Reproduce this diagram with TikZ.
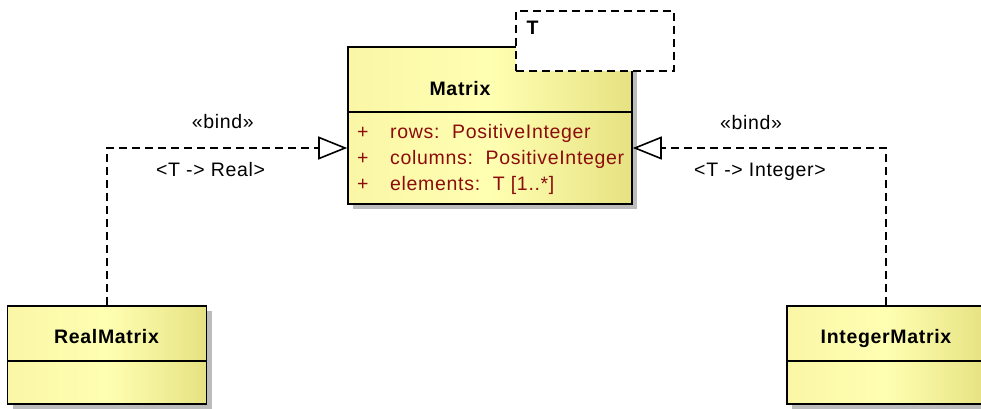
\documentclass[tikz,border=0pt]{standalone}
\usepackage{fontspec}
\setmainfont{Liberation Sans}[LetterSpace=3.5]
\usetikzlibrary{arrows.meta,shadows}
\definecolor{attr}{RGB}{140,12,12}
\definecolor{yl}{RGB}{250,246,166}
\definecolor{ym}{RGB}{255,255,178}
\definecolor{yr}{RGB}{230,226,130}
\definecolor{shd}{RGB}{188,188,188}
\begin{document}
\begin{tikzpicture}[x=1pt,y=-1pt,
  classbox/.style={draw=black, line width=1.6pt, left color=yl, right color=yr, middle color=ym,
    inner sep=0pt, drop shadow={shadow xshift=5pt, shadow yshift=-5pt, fill=shd, opacity=1}},
  divider/.style={line width=1.6pt},
  tplbox/.style={draw=black, fill=white, line width=1.6pt, dash pattern=on 8pt off 5pt, inner sep=0pt},
  title/.style={font=\bfseries\fontsize{19.5}{22}\selectfont, inner sep=0pt, anchor=base},
  attrtxt/.style={font=\fontsize{19.5}{22}\selectfont, text=attr, inner sep=0pt, anchor=base west},
  lbl/.style={font=\fontsize{19.5}{22}\selectfont, inner sep=0pt, anchor=base},
  bindline/.style={line width=1.6pt, dash pattern=on 8pt off 5pt,
    -{Triangle[open, length=29pt, width=23pt, line width=1.6pt]}}
]
\useasboundingbox (0,0) rectangle (981,408);
\clip (0,0) rectangle (981,408);

% Matrix class
\node[classbox, minimum width=284pt, minimum height=157pt] (matrix) at (490,125.5) {};
\draw[divider] (matrix.west |- 0,112) -- (matrix.east |- 0,112);
\node[title] (mtitle) at (460,95) {Matrix};
\node[attrtxt] (p1) at (357,138.5) {+};
\node[attrtxt] (a1) at (390,138.5) {rows:\hspace{0.65em}PositiveInteger};
\node[attrtxt] (p2) at (357,164.3) {+};
\node[attrtxt] (a2) at (390,164.3) {columns:\hspace{0.65em}PositiveInteger};
\node[attrtxt] (p3) at (357,190) {+};
\node[attrtxt] (a3) at (390,190) {elements:\hspace{0.65em}T [1..*]};

% template parameter box
\node[tplbox, minimum width=158pt, minimum height=60pt] (tpl) at (595,40.7) {};
\node[title, anchor=base west] (tname) at (526.5,34.3) {T};

% RealMatrix
\node[classbox, minimum width=199pt, minimum height=98pt] (real) at (107,355) {};
\draw[divider] (real.west |- 0,361) -- (real.east |- 0,361);
\node[title] (rtitle) at (106.5,343.3) {RealMatrix};

% IntegerMatrix
\node[classbox, minimum width=198pt, minimum height=98pt] (intm) at (886,355) {};
\draw[divider] (intm.west |- 0,361) -- (intm.east |- 0,361);
\node[title] (ititle) at (886,343.3) {IntegerMatrix};

% bind connectors
\draw[bindline] (real.north) |- ([yshift=-22.5pt]matrix.west);
\draw[bindline] (intm.north) |- ([yshift=-22.5pt]matrix.east);

\node[lbl] (b1) at (222.8,128.3) {«bind»};
\node[lbl] (m1) at (210.5,176) {<T -> Real>};
\node[lbl] (b2) at (751,129) {«bind»};
\node[lbl] (m2) at (760,176.7) {<T -> Integer>};
\end{tikzpicture}
\end{document}
